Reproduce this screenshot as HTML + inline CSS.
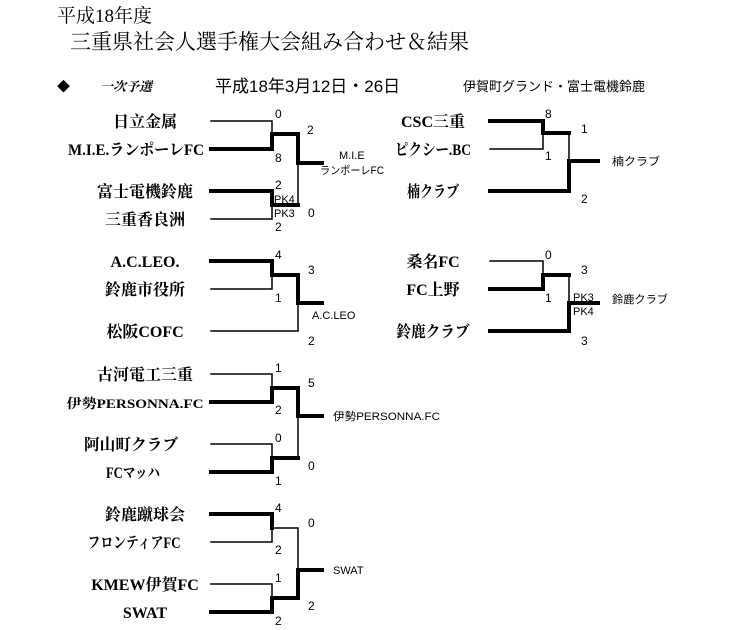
<!DOCTYPE html>
<html><head><meta charset="utf-8"><style>
html,body{margin:0;padding:0;background:#fff;}
svg{display:block;}
.t{font-family:"Liberation Serif","Noto Serif CJK SC","Noto Sans CJK JP",serif;font-weight:bold;font-size:16px;fill:#000;text-anchor:middle;}
.s{font-family:"Liberation Sans","Noto Sans CJK JP",sans-serif;font-size:12px;fill:#000;}
.p{font-family:"Liberation Sans","Noto Sans CJK JP",sans-serif;font-size:11px;fill:#000;}
</style></head><body>
<svg width="748" height="630" viewBox="0 0 748 630" xmlns="http://www.w3.org/2000/svg">
<text x="57" y="22" style="font-family:'Liberation Serif','Noto Serif CJK SC',serif;font-size:19px">平成18年度</text>
<text x="70" y="49" style="font-family:'Liberation Serif','Noto Serif CJK SC',serif;font-size:21px">三重県社会人選手権大会組み合わせ＆結果</text>
<text x="57" y="91" style="font-family:'Liberation Sans','Noto Sans CJK JP',sans-serif;font-size:13px">◆</text>
<text x="100" y="91" style="font-family:'Liberation Serif','Noto Serif CJK JP',serif;font-size:13px;font-weight:bold;font-style:italic">一次予選</text>
<text x="215" y="92" style="font-family:'Liberation Sans','Noto Sans CJK JP',sans-serif;font-size:17px">平成18年3月12日・26日</text>
<text x="463" y="91" style="font-family:'Liberation Sans','Noto Sans CJK JP',sans-serif;font-size:13px">伊賀町グランド・富士電機鈴鹿</text>

<g stroke="#000" fill="none" stroke-linecap="square">
<path d="M211 121H272V149" stroke-width="1.5"/>
<path d="M211 149H272V134H298V163H322" stroke-width="4"/>
<path d="M298 163V205" stroke-width="1.5"/>
<path d="M211 191H272V205H298" stroke-width="4"/>
<path d="M211 219H272V205" stroke-width="1.5"/>
<path d="M211 261H272V275H298V303H322" stroke-width="4"/>
<path d="M211 289H272V275" stroke-width="1.5"/>
<path d="M211 331H298V303" stroke-width="1.5"/>
<path d="M490 121H543V133H569" stroke-width="4"/>
<path d="M490 149H543V133" stroke-width="1.5"/>
<path d="M569 133V161" stroke-width="1.5"/>
<path d="M490 191H569V161H598" stroke-width="4"/>
<path d="M490 261H543V275" stroke-width="1.5"/>
<path d="M490 289H543V275H569" stroke-width="4"/>
<path d="M569 275V303" stroke-width="1.5"/>
<path d="M490 331H569V303H598" stroke-width="4"/>
<path d="M211 374H272V388" stroke-width="1.5"/>
<path d="M211 402H272V388H298V416H322" stroke-width="4"/>
<path d="M298 416V458" stroke-width="1.5"/>
<path d="M211 444H272V458" stroke-width="1.5"/>
<path d="M211 472H272V458H298" stroke-width="4"/>
<path d="M211 514H272V528" stroke-width="4"/>
<path d="M272 528V542H211" stroke-width="1.5"/>
<path d="M272 528H298V570" stroke-width="1.5"/>
<path d="M211 584H272V598" stroke-width="1.5"/>
<path d="M211 612H272V598H298V570H322" stroke-width="4"/>
</g>

<text class="t" x="145" y="127">日立金属</text>
<text class="t" x="136" y="155" textLength="136" lengthAdjust="spacingAndGlyphs">M.I.E.ランポーレFC</text>
<text class="t" x="145" y="197">富士電機鈴鹿</text>
<text class="t" x="145" y="225">三重香良洲</text>
<text class="t" x="145" y="267">A.C.LEO.</text>
<text class="t" x="145" y="295">鈴鹿市役所</text>
<text class="t" x="145" y="337">松阪COFC</text>
<text class="t" x="145" y="380">古河電工三重</text>
<text class="t" x="135" y="408" style="font-size:13px" textLength="137" lengthAdjust="spacingAndGlyphs">伊勢PERSONNA.FC</text>
<text class="t" x="131" y="450" textLength="94" lengthAdjust="spacingAndGlyphs">阿山町クラブ</text>
<text class="t" x="133" y="478" textLength="54" lengthAdjust="spacingAndGlyphs">FCマッハ</text>
<text class="t" x="134" y="548" textLength="93" lengthAdjust="spacingAndGlyphs">フロンティアFC</text>
<text class="t" x="145" y="520">鈴鹿蹴球会</text>
<text class="t" x="145" y="590">KMEW伊賀FC</text>
<text class="t" x="145" y="618">SWAT</text>
<text class="t" x="433" y="127">CSC三重</text>
<text class="t" x="433" y="155" textLength="76" lengthAdjust="spacingAndGlyphs">ピクシー.BC</text>
<text class="t" x="433" y="197" textLength="52" lengthAdjust="spacingAndGlyphs">楠クラブ</text>
<text class="t" x="433" y="267">桑名FC</text>
<text class="t" x="433" y="295">FC上野</text>
<text class="t" x="433" y="337" textLength="73" lengthAdjust="spacingAndGlyphs">鈴鹿クラブ</text>

<text class="s" x="275" y="118">0</text>
<text class="s" x="307" y="134">2</text>
<text class="s" x="275" y="162">8</text>
<text class="s" x="275" y="189">2</text>
<text class="p" x="274" y="203">PK4</text>
<text class="p" x="274" y="217">PK3</text>
<text class="s" x="275" y="231">2</text>
<text class="s" x="308" y="217">0</text>
<text class="s" x="339" y="159" style="font-size:11px">M.I.E</text>
<text class="s" x="320" y="174" style="font-size:11px" textLength="64" lengthAdjust="spacingAndGlyphs">ランポーレFC</text>

<text class="s" x="275" y="259">4</text>
<text class="s" x="308" y="274">3</text>
<text class="s" x="275" y="302">1</text>
<text class="s" x="308" y="345">2</text>
<text class="s" x="312" y="319" style="font-size:11px">A.C.LEO</text>

<text class="s" x="545" y="118">8</text>
<text class="s" x="581" y="133">1</text>
<text class="s" x="545" y="160">1</text>
<text class="s" x="581" y="203">2</text>
<text class="s" x="612" y="165" style="font-size:11px" textLength="48" lengthAdjust="spacingAndGlyphs">楠クラブ</text>

<text class="s" x="545" y="259">0</text>
<text class="s" x="581" y="274">3</text>
<text class="s" x="545" y="302">1</text>
<text class="p" x="573" y="301">PK3</text>
<text class="p" x="573" y="315">PK4</text>
<text class="s" x="581" y="345">3</text>
<text class="s" x="612" y="303" style="font-size:11px" textLength="56" lengthAdjust="spacingAndGlyphs">鈴鹿クラブ</text>

<text class="s" x="275" y="372">1</text>
<text class="s" x="308" y="387">5</text>
<text class="s" x="275" y="414">2</text>
<text class="s" x="333" y="420" style="font-size:11px" textLength="107" lengthAdjust="spacingAndGlyphs">伊勢PERSONNA.FC</text>
<text class="s" x="275" y="442">0</text>
<text class="s" x="308" y="470">0</text>
<text class="s" x="275" y="485">1</text>

<text class="s" x="275" y="512">4</text>
<text class="s" x="308" y="527">0</text>
<text class="s" x="275" y="554">2</text>
<text class="s" x="333" y="574" style="font-size:11px">SWAT</text>
<text class="s" x="275" y="582">1</text>
<text class="s" x="308" y="610">2</text>
<text class="s" x="275" y="625">2</text>
</svg>
</body></html>
